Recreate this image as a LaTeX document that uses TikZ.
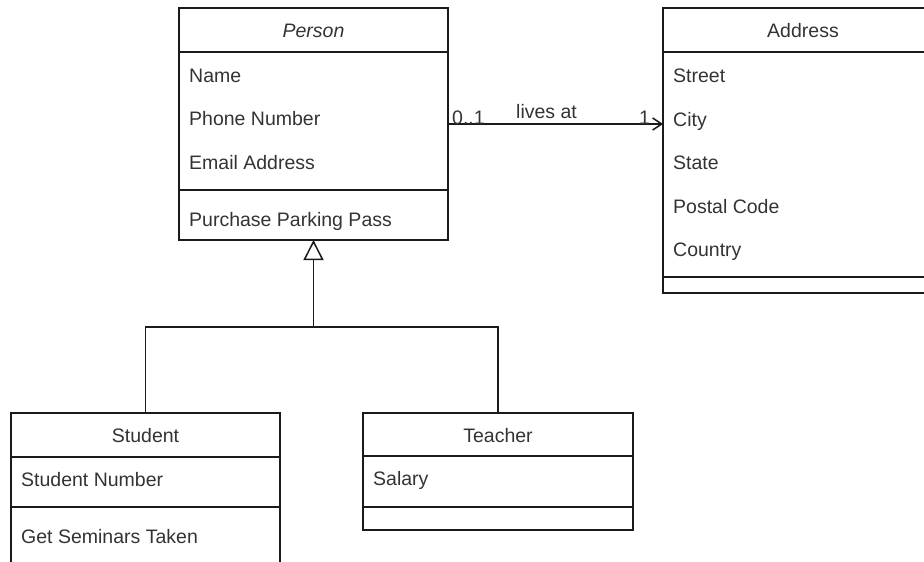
\documentclass[tikz,border=0pt]{standalone}
\usepackage{fontspec}
\setmainfont{Liberation Sans}
\usetikzlibrary{arrows.meta}
\definecolor{txt}{HTML}{333333}
\definecolor{ln}{HTML}{1A1A1A}
\begin{document}
\begin{tikzpicture}[x=1pt,y=-1pt,
  umlbox/.style={draw=ln,line width=1.5pt,anchor=north west,inner sep=0pt,outer sep=0pt},
  sepline/.style={draw=ln,line width=1.5pt},
  conn/.style={draw=ln,line width=1.5pt},
  member/.style={anchor=base west,inner sep=0pt,text=txt,font=\fontsize{19.5}{23}\selectfont},
  title/.style={anchor=base,inner sep=0pt,text=txt,font=\fontsize{19.5}{23}\selectfont},
  lbl/.style={anchor=base west,inner sep=0pt,text=txt,font=\fontsize{19.5}{23}\selectfont}]
\useasboundingbox (0,0) rectangle (924,562);
\clip (0,0) rectangle (924,562);

% Person (abstract class)
\node[umlbox,minimum width=269pt,minimum height=232pt] (person) at (179,8) {};
\draw[sepline] (179,52) -- (448,52);
\draw[sepline] (179,190) -- (448,190);
\node[title,font=\fontsize{19.5}{23}\selectfont\itshape] (personT) at (313.5,37) {Person};
\node[member] (pName) at (189,82) {Name};
\node[member] (pPhone) at (189,125) {Phone Number};
\node[member] (pEmail) at (189,169) {Email Address};
\node[member] (pPark) at (189,226) {Purchase Parking Pass};

% Address
\node[umlbox,minimum width=280pt,minimum height=285pt] (address) at (663,8) {};
\draw[sepline] (663,52) -- (943,52);
\draw[sepline] (663,277) -- (943,277);
\node[title] (addressT) at (803,37) {Address};
\node[member] (aStreet) at (673,82) {Street};
\node[member] (aCity) at (673,126) {City};
\node[member] (aState) at (673,169) {State};
\node[member] (aPostal) at (673,213) {Postal Code};
\node[member] (aCountry) at (673,256) {Country};

% Student
\node[umlbox,minimum width=269pt,minimum height=180pt] (student) at (11,413) {};
\draw[sepline] (11,457) -- (280,457);
\draw[sepline] (11,507) -- (280,507);
\node[title] (studentT) at (145.5,442) {Student};
\node[member] (sNum) at (21,486) {Student Number};
\node[member] (sSem) at (21,543) {Get Seminars Taken};

% Teacher
\node[umlbox,minimum width=270pt,minimum height=117pt] (teacher) at (363,413) {};
\draw[sepline] (363,456) -- (633,456);
\draw[sepline] (363,507) -- (633,507);
\node[title] (teacherT) at (498,442) {Teacher};
\node[member] (tSal) at (373,485) {Salary};

% Association: Person lives at Address
\draw[conn,-{Straight Barb[length=9pt,width=12pt]}] (person.east) -- (address.west |- person.east);
\node[lbl] (mFrom) at (452,124) {0..1};
\node[lbl] (mName) at (516,118) {lives at};
\node[lbl] (mTo) at (639,124) {1};

% Generalization: Student, Teacher -> Person
\coordinate (joint) at (313.5,327);
\draw[conn] (student.north) |- (joint) -| (teacher.north);
\draw[conn,-{Triangle[open,length=20pt,width=20pt]}] (joint) -- (person.south);
\end{tikzpicture}
\end{document}
